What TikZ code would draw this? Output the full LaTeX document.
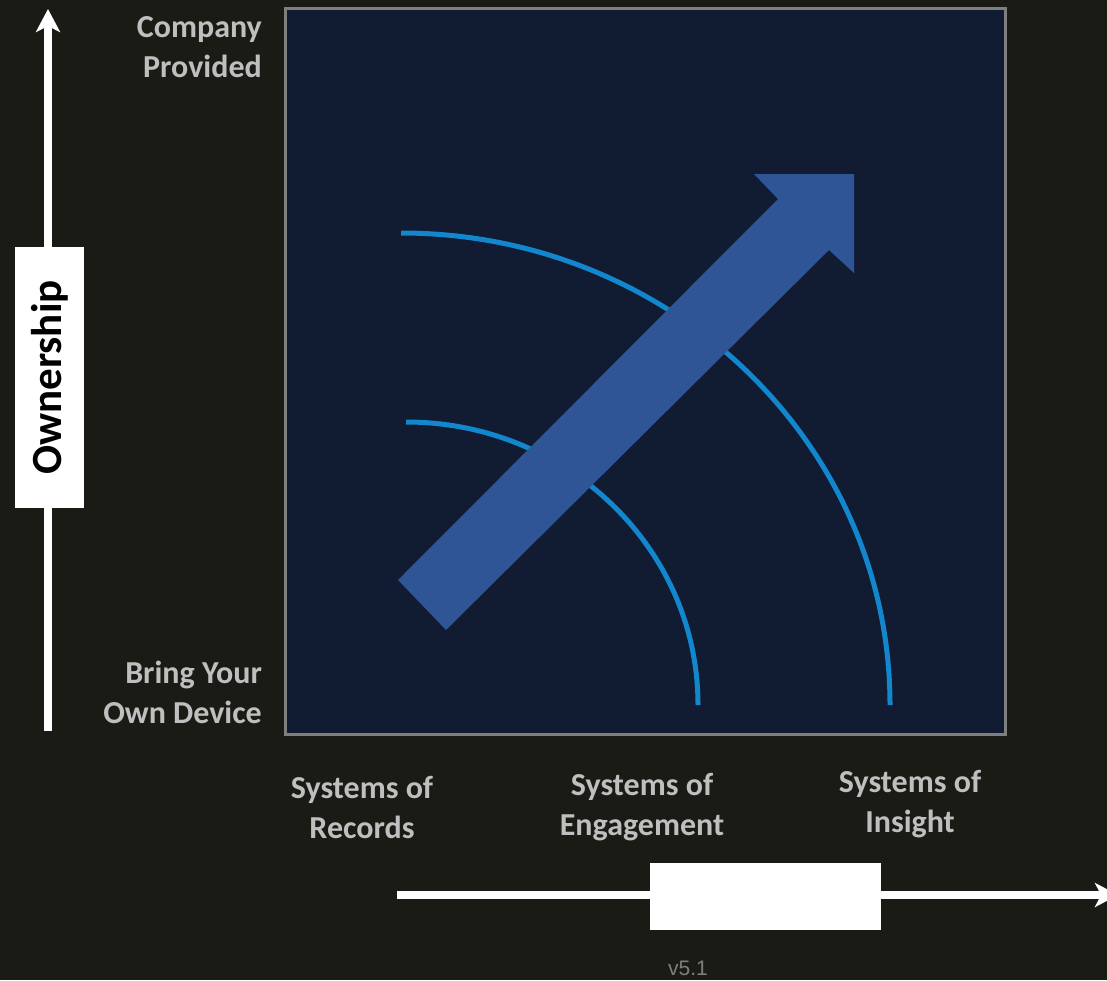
\documentclass[tikz,border=0pt]{standalone}
\usepackage{fontspec}
\setmainfont{Carlito}
\newfontfamily\versionfont{Liberation Sans}
\usetikzlibrary{arrows.meta}

\definecolor{pagebg}{HTML}{1B1B16}
\definecolor{panelbg}{HTML}{111C33}
\definecolor{panelrim}{HTML}{7F7F7F}
\definecolor{arcblue}{HTML}{1287CE}
\definecolor{shiftblue}{HTML}{2F5597}
\definecolor{labelgray}{HTML}{BFBFBF}

\tikzset{
  axis/.style={draw=white, line width=8pt, -{Stealth[length=23pt,width=24pt,inset=6pt]}},
  axisbox/.style={fill=white, inner sep=0pt},
  ticklabel/.style={text=labelgray, inner sep=0pt, font=\bfseries\fontsize{32}{40}\selectfont},
  ring/.style={draw=arcblue, line width=5pt},
}

\begin{document}
\begin{tikzpicture}[x=1pt,y=-1pt]
\useasboundingbox[fill=pagebg] (0,0) rectangle (1107,980);

% panel
\node [draw=panelrim, fill=panelbg, line width=3pt, minimum width=720pt, minimum height=726pt] (panel) at (645,371) {};

% rings
\draw [ring] (401,233) arc [start angle=90, end angle=0, x radius=489pt, y radius=472pt];
\draw [ring] (406,422) arc [start angle=90, end angle=0, x radius=292pt, y radius=283pt];

% big shift arrow
\fill [shiftblue] (398,580) -- (778,199) -- (754,174) -- (854,174) -- (854,273) -- (829,250) -- (446,630) -- cycle;

% axes
\coordinate (ybot) at (48,731);
\coordinate (ytop) at (48,9);
\coordinate (xleft) at (397,895);
\coordinate (xright) at (1118,895);
\draw [axis] (ybot) -- (ytop);
\draw [axis] (xleft) -- (xright);
\node [axisbox, minimum width=261pt, minimum height=69pt, rotate=90] (own) at (49.5,377.5) {\bfseries\fontsize{43}{50}\selectfont Ownership};
\node [axisbox, minimum width=231pt, minimum height=67pt] (xbox) at (765.5,896.5) {};

% labels
\node [ticklabel, anchor=east, align=right] (company) at (262,47) {Company\\Provided};
\node [ticklabel, anchor=east, align=right] (byod) at (262,692) {Bring Your\\Own Device};
\node [ticklabel, align=center] (records) at (362,807) {Systems of\\Records};
\node [ticklabel, align=center] (engage) at (642,807) {Systems of\\Engagement};
\node [ticklabel, align=center] (insight) at (910,804) {Systems of\\Insight};

\node [text=panelrim, font=\versionfont\fontsize{21}{21}\selectfont] (version) at (688,968) {v5.1};
\end{tikzpicture}
\end{document}
